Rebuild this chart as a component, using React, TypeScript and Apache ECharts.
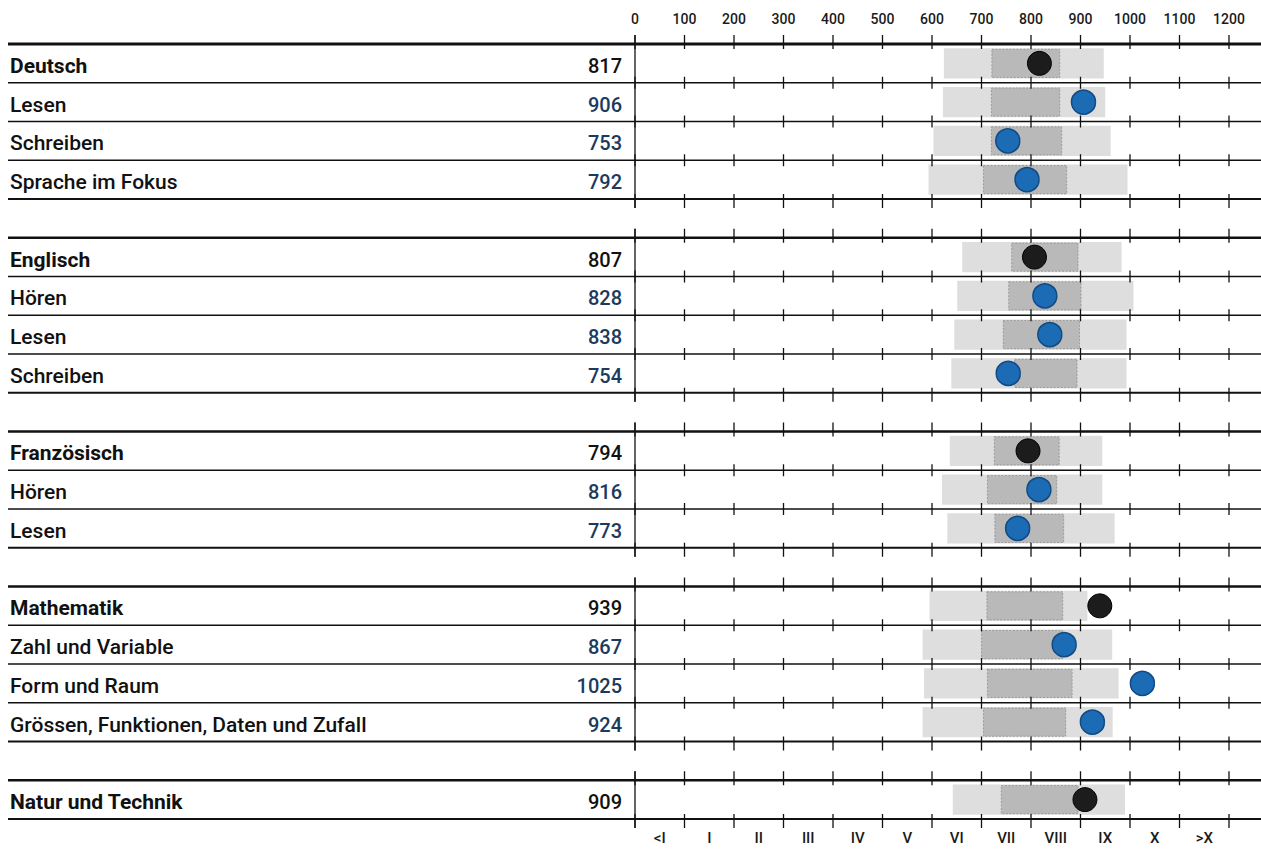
import React, { useEffect, useRef } from "react";
import * as echarts from "echarts";

// Rows (empty strings are the gaps between subject groups)
const rowNames = [
  "Deutsch", "Lesen", "Schreiben", "Sprache im Fokus", "",
  "Englisch", "Hören", "Lesen", "Schreiben", "",
  "Französisch", "Hören", "Lesen", "",
  "Mathematik", "Zahl und Variable", "Form und Raum", "Grössen, Funktionen, Daten und Zufall", "",
  "Natur und Technik",
];
// 1 = subject heading, 0 = sub-domain, -1 = gap
const rowKind = [1, 0, 0, 0, -1, 1, 0, 0, 0, -1, 1, 0, 0, -1, 1, 0, 0, 0, -1, 1];
const rowValues = [817, 906, 753, 792, null, 807, 828, 838, 754, null, 794, 816, 773, null, 939, 867, 1025, 924, null, 909];
const lightLow = [624, 622, 603, 593, null, 661, 651, 645, 639, null, 636, 620, 631, null, 595, 581, 584, 581, null, 642];
const lightHigh = [947, 950, 961, 995, null, 983, 1007, 993, 993, null, 944, 944, 969, null, 914, 964, 977, 965, null, 990];
const darkLow = [721, 720, 720, 704, null, 761, 755, 744, 767, null, 726, 712, 727, null, 711, 700, 712, 704, null, 740];
const darkHigh = [858, 858, 862, 872, null, 895, 901, 898, 893, null, 857, 852, 866, null, 864, 864, 883, 870, null, 895];

const scaleTicks = [0, 100, 200, 300, 400, 500, 600, 700, 800, 900, 1000, 1100, 1200];
const levelLabels = ["<I", "I", "II", "III", "IV", "V", "VI", "VII", "VIII", "IX", "X", ">X"];

const FONT = "Roboto, 'Noto Sans', sans-serif";

export default function App() {
  const ref = useRef<HTMLDivElement>(null);

  useEffect(() => {
    if (!ref.current) return;
    const chart = echarts.init(ref.current, null, { renderer: "svg" });

    const frameData: number[][] = [];
    const rangeData: number[][] = [];
    const dotData: any[] = [];
    rowNames.forEach((_, i) => {
      if (rowKind[i] < 0) return;
      const first = i === 0 || rowKind[i - 1] < 0 ? 1 : 0;
      const last = i === rowNames.length - 1 || rowKind[i + 1] < 0 ? 1 : 0;
      frameData.push([0, i, first, last]);
      rangeData.push([i, lightLow[i] as number, lightHigh[i] as number, darkLow[i] as number, darkHigh[i] as number]);
      const head = rowKind[i] === 1;
      dotData.push({
        value: [rowValues[i], i],
        itemStyle: head
          ? { color: "#1c1c1c", borderColor: "#000", borderWidth: 1, opacity: 1 }
          : { color: "#1b6cb5", borderColor: "#124a82", borderWidth: 1.5, opacity: 1 },
      });
    });

    const option: any = {
      animation: false,
      backgroundColor: "#ffffff",
      grid: { left: 635, right: 32, top: 44, bottom: 30, outerBoundsMode: "none", containLabel: false },
      xAxis: [
        {
          type: "value",
          position: "top",
          min: 0,
          max: 1200,
          interval: 100,
          axisLine: { show: false },
          axisTick: { show: false },
          splitLine: { show: false },
          axisLabel: {
            fontFamily: FONT,
            fontSize: 14,
            fontWeight: 500,
            color: "#1a1a1a",
            margin: 18,
            formatter: (v: number) => String(v),
          },
        },
        {
          type: "category",
          position: "bottom",
          data: levelLabels,
          boundaryGap: true,
          axisLine: { show: false },
          axisTick: { show: false },
          splitLine: { show: false },
          axisLabel: { fontFamily: FONT, fontSize: 15, fontWeight: 500, color: "#1a1a1a", margin: 11, interval: 0 },
        },
      ],
      yAxis: [
        {
          type: "category",
          inverse: true,
          data: rowNames,
          axisLine: { show: false },
          axisTick: { show: false },
          splitLine: { show: false },
          axisLabel: {
            interval: 0,
            align: "left",
            margin: 625,
            formatter: (v: string, i: number) => (rowKind[i] === 1 ? `{h|${v}}` : `{s|${v}}`),
            rich: {
              h: { fontFamily: FONT, fontSize: 21, fontWeight: 700, color: "#111", padding: [5, 0, 0, 0] },
              s: { fontFamily: FONT, fontSize: 21, fontWeight: 500, color: "#111", padding: [5, 0, 0, 0] },
            },
          },
        },
        {
          type: "category",
          inverse: true,
          position: "left",
          data: rowNames,
          axisLine: { show: false },
          axisTick: { show: false },
          splitLine: { show: false },
          axisLabel: {
            interval: 0,
            align: "right",
            margin: 13,
            formatter: (_v: string, i: number) =>
              rowValues[i] == null ? "" : rowKind[i] === 1 ? `{h|${rowValues[i]}}` : `{s|${rowValues[i]}}`,
            rich: {
              h: { fontFamily: FONT, fontSize: 20, fontWeight: 500, color: "#111", padding: [5, 0, 0, 0] },
              s: { fontFamily: FONT, fontSize: 20, fontWeight: 500, color: "#1b3a5c", padding: [5, 0, 0, 0] },
            },
          },
        },
      ],
      series: [
        {
          type: "custom",
          name: "ranges",
          xAxisIndex: 0,
          yAxisIndex: 0,
          z: 1,
          encode: { y: 0, x: [1, 2, 3, 4] },
          data: rangeData,
          renderItem: (params: any, api: any) => {
            const idx = api.value(0);
            const h = api.size([0, 1])[1] * 0.78;
            const a = api.coord([api.value(1), idx]);
            const b = api.coord([api.value(2), idx]);
            const c = api.coord([api.value(3), idx]);
            const d = api.coord([api.value(4), idx]);
            return {
              type: "group",
              children: [
                {
                  type: "rect",
                  shape: { x: a[0], y: a[1] - h / 2, width: b[0] - a[0], height: h },
                  style: { fill: "#dedede" },
                },
                {
                  type: "rect",
                  shape: { x: c[0], y: c[1] - h / 2 + 1, width: d[0] - c[0], height: h - 2 },
                  style: { fill: "#b9b9b9", stroke: "#8f8f8f", lineWidth: 0.8, lineDash: [2, 1.5] },
                },
              ],
            };
          },
        },
        {
          type: "custom",
          name: "frame",
          xAxisIndex: 0,
          yAxisIndex: 0,
          z: 2,
          encode: { x: 0, y: 1 },
          data: frameData,
          renderItem: (params: any, api: any) => {
            const idx = api.value(1);
            const first = api.value(2) === 1;
            const last = api.value(3) === 1;
            const ctr = api.coord([0, idx]);
            const rh = api.size([0, 1])[1];
            const top = ctr[1] - rh / 2;
            const bot = ctr[1] + rh / 2;
            const x0 = ctr[0];
            const L = 8;
            const R = 1261;
            const children: any[] = [];
            const stroke = "#111";
            children.push({
              type: "line",
              shape: { x1: L, y1: top, x2: R, y2: top },
              style: { stroke, lineWidth: first ? (idx === 0 ? 3.2 : 2.6) : 1.6 },
            });
            if (last) {
              children.push({
                type: "line",
                shape: { x1: L, y1: bot, x2: R, y2: bot },
                style: { stroke, lineWidth: 1.8 },
              });
            }
            scaleTicks.forEach((t) => {
              const x = api.coord([t, idx])[0];
              children.push({
                type: "line",
                shape: { x1: x, y1: top - (first ? 9 : 6), x2: x, y2: top + (first ? 5 : 6) },
                style: { stroke, lineWidth: 1.3 },
              });
              if (last) {
                children.push({
                  type: "line",
                  shape: { x1: x, y1: bot - 5, x2: x, y2: bot + 9 },
                  style: { stroke, lineWidth: 1.3 },
                });
              }
            });
            children.push({
              type: "line",
              shape: { x1: x0, y1: top - (first ? 9 : 0), x2: x0, y2: bot + (last ? 9 : 0) },
              style: { stroke, lineWidth: 1.3 },
            });
            return { type: "group", children };
          },
        },
        {
          type: "scatter",
          name: "values",
          xAxisIndex: 0,
          yAxisIndex: 0,
          z: 3,
          symbol: "circle",
          symbolSize: 24,
          data: dotData,
        },
      ],
    };

    chart.setOption(option);
    return () => chart.dispose();
  }, []);

  return (
    <div
      ref={ref}
      style={{ position: "absolute", left: 0, top: 0, width: "1261px", height: "849px", background: "#fff" }}
    />
  );
}
